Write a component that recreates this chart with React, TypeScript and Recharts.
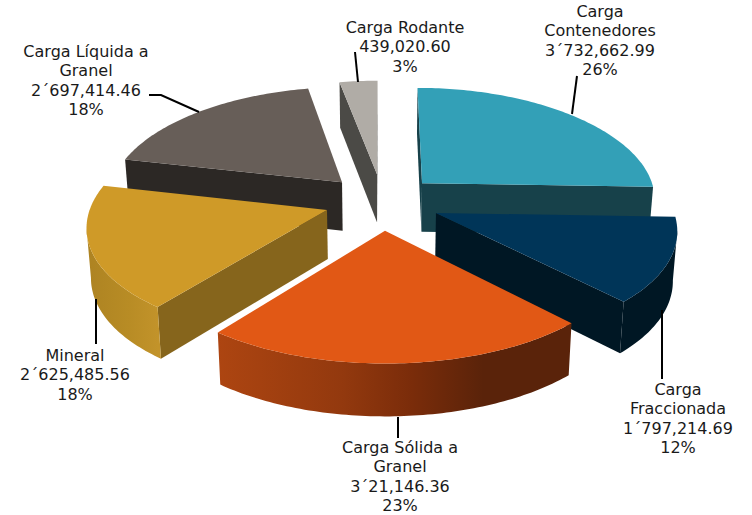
import React from 'react';
import { PieChart, Pie } from 'recharts';

const categories = ['Carga Contenedores', 'Carga Fraccionada', 'Carga Sólida a Granel', 'Mineral', 'Carga Líquida a Granel', 'Carga Rodante'];
const values = [3732662.99, 1797214.69, 3321146.36, 2625485.56, 2697414.46, 439020.6];
const labelLines = [
  ['Carga', 'Contenedores', '3´732,662.99', '26%'],
  ['Carga', 'Fraccionada', '1´797,214.69', '12%'],
  ['Carga Sólida a', 'Granel', '3´21,146.36', '23%'],
  ['Mineral', '2´625,485.56', '18%'],
  ['Carga Líquida a', 'Granel', '2´697,414.46', '18%'],
  ['Carga Rodante', '439,020.60', '3%'],
];
const topColors = ['#33a0b7', '#003558', '#e15815', '#cf9a28', '#675e58', '#b0aca6'];
const wallColors = ['#17414a', '#001724', '#5a230a', '#86651c', '#2c2825', '#4b4a46'];
const arcStops: [number, string][][] = [
  [[0, '#17414a'], [1, '#17414a']],
  [[0, '#001724'], [1, '#001724']],
  [[0, '#ad4511'], [0.35, '#93390e'], [0.55, '#7a2c0a'], [0.75, '#5a230a'], [1, '#5a230a']],
  [[0, '#ad8322'], [0.6, '#b88c25'], [1, '#c2932a']],
  [[0, '#2c2825'], [1, '#2c2825']],
  [[0, '#4b4a46'], [1, '#4b4a46']],
];
// slice displacement on the pie plane, in radii
const explode: [number, number][] = [
  [0.174, -0.2006], [0.2266, 0.0709], [0.0123, 0.2266], [-0.2317, 0.0444], [-0.174, -0.21], [-0.022, -0.285],
];
const labelLayout = [
  { x: 600, y: 17 }, { x: 678, y: 395 }, { x: 400, y: 453 }, { x: 75, y: 361 }, { x: 86, y: 57 }, { x: 405, y: 33 },
];
const leaders = [
  '577,76 572,114', '662,310 662,379', '398,417 398,438', '96,299 96,344', '149,95 161,95 199,112', '355,52 358,82',
];
const zOrder = [5, 4, 0, 3, 1, 2];

const data = categories.map((name, i) => ({ name, value: values[i] }));

const KX = 0.13, KY = 0.115, SY = 111 / 236, DEPTH = 49, LINE = 19.4;

function Slice(props: any, idx: number) {
  const { cx, cy, outerRadius: R, startAngle, endAngle } = props;
  const i = props.index ?? data.findIndex((d) => d.name === props.name);
  if (i !== idx) return <g />;
  const [ex, ey] = explode[i];
  const proj = (u: number, v: number, z: number): [number, number] => {
    return [
      cx + ((R * u) / (1 - KX * v)) * (1 - 0.015 * z),
      cy + (R * SY * v) / (1 - KY * v) + (z * DEPTH) / (1 - 0.06 * v),
    ];
  };
  const polar = (deg: number) => {
    const a = (deg * Math.PI) / 180;
    return [ex + Math.cos(a), ey - Math.sin(a)];
  };
  const n = Math.max(2, Math.ceil(Math.abs(endAngle - startAngle)));
  const rim: [number, number][] = [];
  for (let s = 0; s <= n; s++) rim.push(polar(startAngle + ((endAngle - startAngle) * s) / n) as [number, number]);
  const apex: [number, number] = [ex, ey];
  const toPath = (pts: [number, number][]) => 'M' + pts.map((p) => p[0].toFixed(2) + ',' + p[1].toFixed(2)).join('L') + 'Z';
  const top = (p: [number, number]) => proj(p[0], p[1], 0);
  const bot = (p: [number, number]) => proj(p[0], p[1], 1);
  const apexS = top(apex);
  const midS = top(rim[Math.floor(n / 2)]);
  const inner: [number, number] = [(apexS[0] + midS[0]) / 2, (apexS[1] + midS[1]) / 2];
  const visible = (a: [number, number], b: [number, number]) => {
    const A = top(a), B = top(b);
    const bx = B[0] - A[0], by = B[1] - A[1];
    const cD = bx;
    const cI = bx * (inner[1] - A[1]) - by * (inner[0] - A[0]);
    return cD * cI < 0;
  };
  const radial = (p: [number, number], key: string) =>
    visible(apex, p) ? (
      <path key={key} d={toPath([top(apex), top(p), bot(p), bot(apex)])} fill={wallColors[i]} />
    ) : null;
  const arcSegs: [number, number][] = [];
  for (let s = 0; s < n; s++) {
    if (visible(rim[s], rim[s + 1])) {
      if (!arcSegs.length) arcSegs.push(rim[s]);
      arcSegs.push(rim[s + 1]);
    }
  }
  const gid = 'arcgrad' + i;
  const xs = arcSegs.map((p) => top(p)[0]);
  const x1 = Math.min(...(xs.length ? xs : [0]));
  const x2 = Math.max(...(xs.length ? xs : [1]));
  return (
    <g>
      <defs>
        <linearGradient id={gid} gradientUnits="userSpaceOnUse" x1={x1} x2={x2} y1={0} y2={0}>
          {arcStops[i].map(([o, c]) => (
            <stop key={o} offset={o} stopColor={c} />
          ))}
        </linearGradient>
      </defs>
      {radial(rim[0], 'a')}
      {radial(rim[n], 'b')}
      {arcSegs.length > 1 && (
        <path d={toPath([...arcSegs.map(top), ...arcSegs.slice().reverse().map(bot)])} fill={`url(#${gid})`} />
      )}
      <path d={toPath([top(apex), ...rim.map(top)])} fill={topColors[i]} />
    </g>
  );
}

function renderLabel(props: any) {
  const i = props.index;
  const { x, y } = labelLayout[i];
  return (
    <g key={i}>
      <polyline points={leaders[i]} fill="none" stroke="#000" strokeWidth={2} />
      <text x={x} y={y} textAnchor="middle" fontFamily="'DejaVu Sans'" fontSize={16} fill="#1a1a1a">
        {labelLines[i].map((t, j) => (
          <tspan key={j} x={x} y={y + j * LINE}>
            {t}
          </tspan>
        ))}
      </text>
    </g>
  );
}

export default function App() {
  return (
    <div style={{ position: 'absolute', left: 0, top: 0 }}>
      <PieChart width={752} height={515} margin={{ top: 0, right: 0, bottom: 0, left: 0 }}>
        {zOrder.map((idx, z) => (
          <Pie
            key={idx}
            data={data}
            dataKey="value"
            nameKey="name"
            cx={382}
            cy={205}
            innerRadius={0}
            outerRadius={236}
            startAngle={90}
            endAngle={-270}
            stroke="none"
            isAnimationActive={false}
            shape={(p: any) => Slice(p, idx)}
            label={z === zOrder.length - 1 ? renderLabel : false}
            labelLine={false}
          />
        ))}
      </PieChart>
    </div>
  );
}
